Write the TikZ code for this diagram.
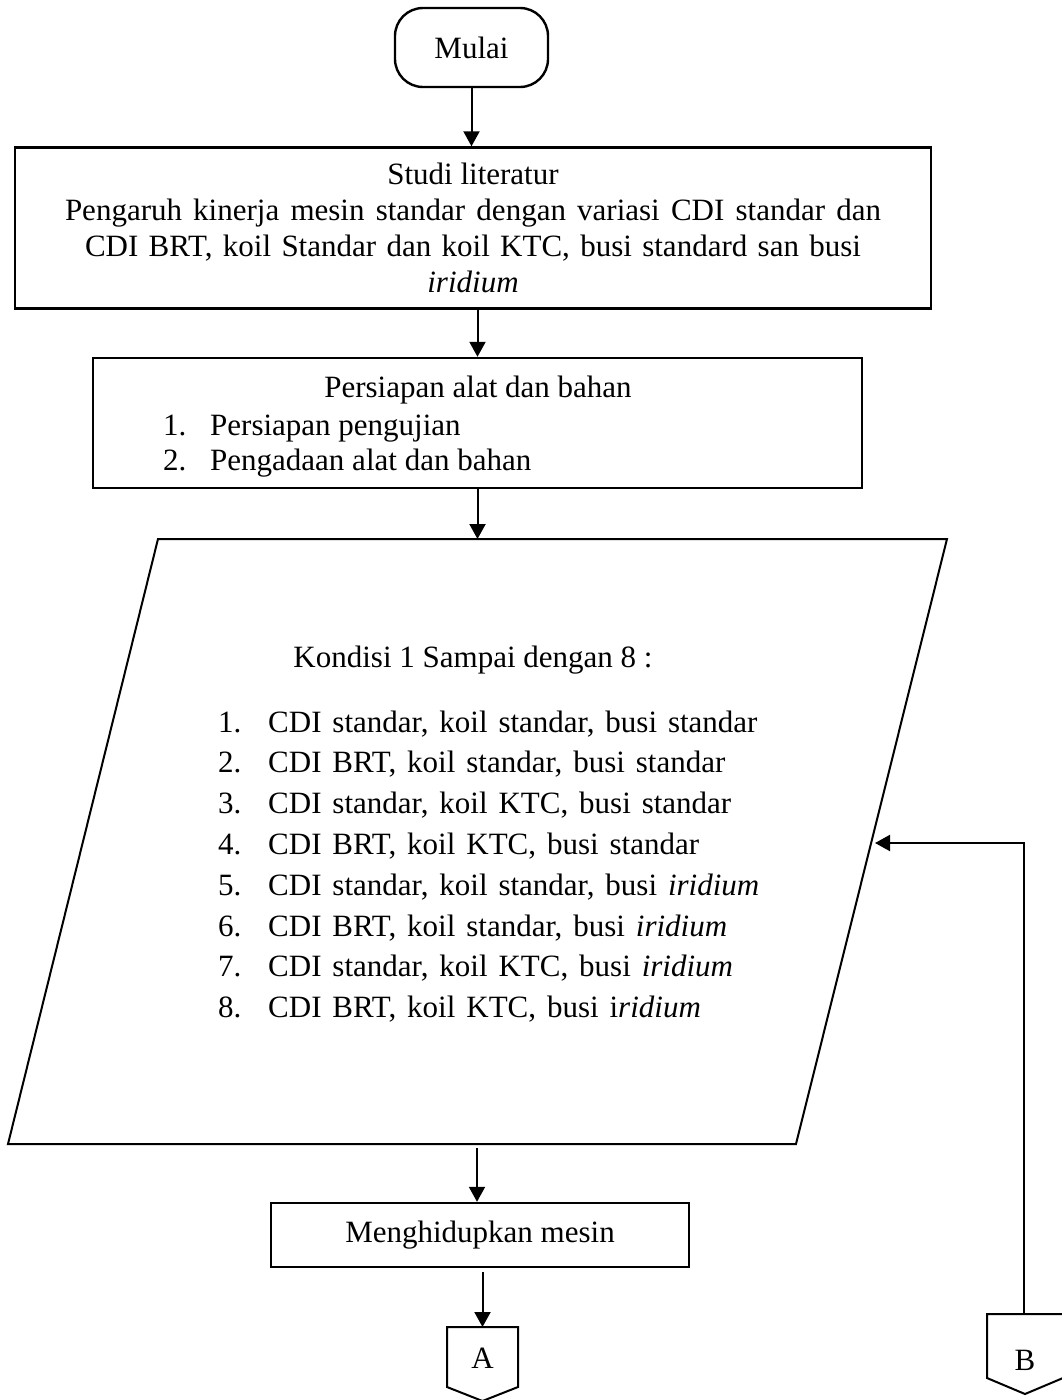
\documentclass[tikz,border=0pt]{standalone}
\usepackage{fontspec}
\setmainfont{Liberation Serif}
\usetikzlibrary{arrows.meta,calc}
\begin{document}
\begin{tikzpicture}[x=1pt,y=-1pt,
  every node/.style={font=\fontsize{31}{36}\selectfont, inner sep=0pt},
  wide/.style={font={\fontsize{31}{36}\selectfont\spaceskip=10.9pt plus 2pt minus 2pt\relax}},
  procbox/.style={draw, line width=2.4pt, rectangle},
  outline/.style={draw, line width=2pt, line join=miter},
  flow/.style={line width=2pt, -{Triangle[length=15pt,width=16pt]}}]

\useasboundingbox (0,0) rectangle (1062,1400);

% start terminal
\node[procbox, rounded corners=28pt, minimum width=153pt, minimum height=79pt] (mulai) at (471.5,47.5) {Mulai};

% literature study
\node[procbox, minimum width=916pt, minimum height=161pt, align=center] (studi) at (473,228)
  {Studi literatur\\
   \makebox[816pt][s]{Pengaruh kinerja mesin standar dengan variasi CDI standar dan}\\
   \makebox[776pt][s]{CDI BRT, koil Standar dan koil KTC, busi standard san busi}\\
   \textit{iridium}};

% preparation
\node[procbox, minimum width=769pt, minimum height=130pt] (prep) at (477.5,423) {};
\node[anchor=base] (prept) at (478,397) {Persiapan alat dan bahan};
\node[anchor=base west] (p1n) at (163,435) {1.};
\node[anchor=base west] (p1t) at (210,435) {Persiapan pengujian};
\node[anchor=base west] (p2n) at (163,470) {2.};
\node[anchor=base west] (p2t) at (210,470) {Pengadaan alat dan bahan};

% input parallelogram
\coordinate (q1) at (158,539);
\coordinate (q2) at (947,539);
\coordinate (q3) at (796,1144);
\coordinate (q4) at (8,1144);
\draw[outline] (q1) -- (q2) -- (q3) -- (q4) -- cycle;
\coordinate (qtop) at (477.5,539);
\coordinate (qbot) at (477,1144);
\coordinate (ret) at (875,843);

\node (kond) at (473,660) {Kondisi 1 Sampai dengan 8 :};
\foreach \i/\txt in {
  1/{CDI standar, koil standar, busi standar},
  2/{CDI BRT, koil standar, busi standar},
  3/{CDI standar, koil KTC, busi standar},
  4/{CDI BRT, koil KTC, busi standar},
  5/{CDI standar, koil standar, busi \textit{iridium}},
  6/{CDI BRT, koil standar, busi \textit{iridium}},
  7/{CDI standar, koil KTC, busi \textit{iridium}},
  8/{CDI BRT, koil KTC, busi i\textit{ridium}}} {
  \node[anchor=base west] (k\i n) at (218,{732+40.8*(\i-1)}) {\i.};
  \node[wide, anchor=base west] (k\i t) at (268,{732+40.8*(\i-1)}) {\txt};
}

% engine start
\node[procbox, minimum width=418pt, minimum height=64pt] (mesin) at (480,1235) {Menghidupkan mesin};

% off-page connectors
\node (A) at (482.5,1358) {A};
\draw[outline] (447,1327) -- (518,1327) -- (518,1387) -- (482.5,1401) -- (447,1387) -- cycle;
\coordinate (Atop) at (482.5,1327);

\node (B) at (1025,1360) {B};
\draw[outline] (987,1314) -- (1063,1314) -- (1063,1378) -- (1025,1394) -- (987,1378) -- cycle;
\coordinate (Btop) at (1023.5,1314);

% flow lines
\draw[flow] (mulai.south) -- (mulai.south |- studi.north);
\draw[flow] (prep.north |- studi.south) -- (prep.north);
\draw[flow] (prep.south -| qtop) -- (qtop);
\draw[flow] ($(qbot)+(0,4)$) -- (qbot |- mesin.north);
\draw[flow] ($(mesin.south -| Atop)+(0,4)$) -- (Atop);
\draw[flow] (Btop) |- (ret);

\end{tikzpicture}
\end{document}
